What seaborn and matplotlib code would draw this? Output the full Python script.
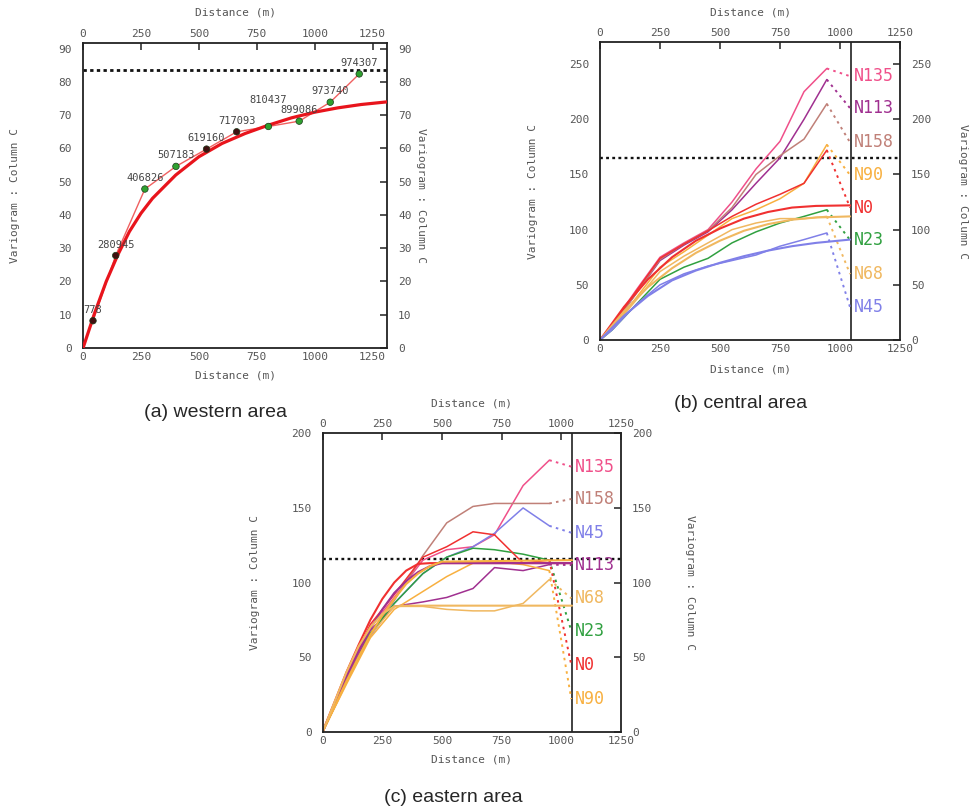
import matplotlib
matplotlib.use('Agg')
import numpy as np
import matplotlib.pyplot as plt
import seaborn as sns

sns.set_style('white')
plt.rcParams['font.family'] = ['DejaVu Sans Mono']

MONO = 'DejaVu Sans Mono'
GREY = '#555555'
PX = 0.72  # pixels -> points at dpi 100

# ---------------- (a) western area : omnidirectional ----------------
a_lag = [43, 141, 267, 401, 533, 663, 800, 933, 1067, 1192]
a_gamma = [8.2, 27.8, 47.8, 54.6, 59.8, 65.0, 66.6, 68.2, 73.9, 82.4]
a_pairs = ['778', '280945', '406826', '507183', '619160', '717093',
           '810437', '899086', '973740', '974307']
a_model_lag = [0, 50, 100, 150, 200, 250, 300, 400, 500, 600, 700, 800,
               900, 1000, 1100, 1200, 1312]
a_model = [0, 10.5, 20, 28, 35, 40.5, 45, 52, 57.5, 61.5, 64.5, 67, 69.2,
           70.9, 72.2, 73.2, 74]
a_sill = 83.5

# ---------------- (b) central area : directional ----------------
dirs = ['N135', 'N113', 'N158', 'N90', 'N0', 'N23', 'N68', 'N45']
colors = {'N135': '#f0508a', 'N113': '#a03090', 'N158': '#c08078',
          'N90': '#f8b040', 'N0': '#f03030', 'N23': '#30a040',
          'N68': '#f0b860', 'N45': '#8080e8'}

b_lag = [0, 50, 150, 250, 350, 450, 550, 650, 750, 850, 945]
b_n135 = [0, 14, 45, 75, 88, 100, 125, 155, 180, 225, 246]
b_n113 = [0, 12, 42, 72, 86, 98, 118, 142, 165, 200, 236]
b_n158 = [0, 12, 42, 73, 87, 99, 120, 150, 167, 182, 214]
b_n90 = [0, 10, 38, 66, 80, 95, 110, 118, 128, 142, 177]
b_n0 = [0, 13, 44, 74, 87, 99, 112, 123, 132, 142, 172]
b_n23 = [0, 9, 32, 55, 66, 74, 88, 98, 106, 112, 118]
b_n68 = [0, 10, 36, 62, 76, 88, 100, 106, 110, 110, 112]
b_n45 = [0, 9, 32, 50, 60, 67, 72, 77, 85, 91, 97]
b_exp = {'N135': b_n135, 'N113': b_n113, 'N158': b_n158, 'N90': b_n90,
         'N0': b_n0, 'N23': b_n23, 'N68': b_n68, 'N45': b_n45}
b_label_y = [239, 210, 179, 149.5, 120, 90.6, 59.8, 29.6]

b_model_lag = [0, 100, 200, 300, 400, 500, 600, 700, 800, 900, 1042]
b_model_n0 = [0, 30, 55, 75, 90, 101, 110, 116, 120, 121.5, 122]
b_model_n68 = [0, 26, 48, 65, 79, 90, 99, 105, 109, 111, 112]
b_model_n45 = [0, 22, 40, 54, 63, 70, 76, 81, 85, 88, 91]
b_sill = 165

# ---------------- (c) eastern area : directional ----------------
c_dirs = ['N135', 'N158', 'N45', 'N113', 'N68', 'N23', 'N0', 'N90']
c_lag = [0, 100, 200, 300, 420, 520, 630, 720, 840, 950]
c_n135 = [0, 36, 70, 90, 115, 122, 124, 132, 165, 182]
c_n158 = [0, 34, 66, 88, 118, 140, 151, 153, 153, 153]
c_n45 = [0, 33, 64, 86, 106, 117, 124, 133, 150, 138]
c_n113 = [0, 35, 68, 84, 87, 90, 96, 110, 108, 112]
c_n68 = [0, 33, 65, 84, 84, 82, 81, 81, 86, 102]
c_n23 = [0, 34, 66, 86, 106, 117, 123, 122, 119, 115]
c_n0 = [0, 38, 72, 92, 117, 124, 134, 132, 113, 115]
c_n90 = [0, 32, 63, 82, 94, 104, 113, 114, 112, 108]
c_exp = {'N135': c_n135, 'N158': c_n158, 'N45': c_n45, 'N113': c_n113,
         'N68': c_n68, 'N23': c_n23, 'N0': c_n0, 'N90': c_n90}
c_label_y = [177.7, 156, 133.4, 111.7, 89.4, 67.7, 44.7, 21.9]

c_model_lag = [0, 50, 100, 150, 200, 250, 300, 350, 400, 450, 500, 1045]
c_model_n0 = [0, 20, 40, 58, 75, 89, 100, 108, 112.5, 113, 113, 113]
c_model_n113 = [0, 19, 37, 54, 69, 82, 93, 101, 107, 111, 113, 113]
c_model_n90 = [0, 17, 34, 50, 65, 78, 89, 99, 106, 111, 114, 115]
c_model_n68 = [0, 20, 40, 57, 70, 79, 84, 84.5, 84.5, 84.5, 84.5, 84.5]
c_sill = 116


def frame(ax, xmax, ymax, yticks, top_px, bot_px, left_px, right_px):
    ax.set_xlim(0, xmax)
    ax.set_ylim(0, ymax)
    ax.set_xticks([0, 250, 500, 750, 1000, 1250])
    ax.set_yticks(yticks)
    ax.tick_params(axis='both', direction='in', length=5, width=1.1,
                   top=True, right=True, labeltop=True, labelright=True,
                   labelsize=8, labelcolor=GREY, color='#222')
    ax.tick_params(axis='x', pad=3)
    ax.tick_params(axis='y', pad=8)
    for s in ax.spines.values():
        s.set_linewidth(1.3)
        s.set_color('#222')
    kw = dict(xycoords='axes fraction', textcoords='offset points',
              ha='center', va='center', fontsize=8, color=GREY, fontfamily=MONO)
    ax.annotate('Distance (m)', xy=(0.5, 1), xytext=(0, top_px * PX), **kw)
    ax.annotate('Distance (m)', xy=(0.5, 0), xytext=(0, -bot_px * PX), **kw)
    ax.annotate('Variogram : Column C', xy=(0, 0.5), xytext=(-left_px * PX, 0),
                rotation=90, **kw)
    ax.annotate('Variogram : Column C', xy=(1, 0.5), xytext=(right_px * PX, 0),
                rotation=270, **kw)


fig = plt.figure(figsize=(9.69, 8.08), dpi=100)
ax_a = fig.add_axes([0.0857, 0.5693, 0.3137, 0.3775])
ax_b = fig.add_axes([0.6192, 0.5792, 0.3096, 0.3688])
ax_c = fig.add_axes([0.3330, 0.0944, 0.3078, 0.3693])

# ---- panel a
frame(ax_a, 1312, 91.7, range(0, 91, 10), 30, 27, 68, 34)
ax_a.axhline(a_sill, color='#111', ls=(0, (1.2, 1.2)), lw=2)
sns.lineplot(x=a_lag, y=a_gamma, ax=ax_a, color='#f06060', lw=1.0,
             sort=False, estimator=None, legend=False)
sns.lineplot(x=a_model_lag, y=a_model, ax=ax_a, color='#e8141c', lw=2.3,
             sort=False, estimator=None, legend=False, zorder=3)
dot_col = ['#401010', '#401010', '#2fa02f', '#2fa02f', '#401010', '#401010',
           '#2fa02f', '#2fa02f', '#2fa02f', '#2fa02f']
sns.scatterplot(x=a_lag, y=a_gamma, ax=ax_a, c=dot_col, s=22,
                edgecolor='#1a3a1a', linewidth=0.5, zorder=4, legend=False)
# pair counts, one lifted so neighbours don't collide
stagger = [0, 0, 0, 0, 0, 0, 4.8, 0, 0, 0]
for x, y, t, dy in zip(a_lag, a_gamma, a_pairs, stagger):
    ax_a.text(x, y + 3.3 + dy, t, ha='center', va='center', fontsize=7.5,
              color='#444', fontfamily=MONO, zorder=5)


def directional(ax, lag, exp, order, label_y, sill, vx):
    ax.axhline(sill, color='#111', ls=(0, (1.2, 1.4)), lw=1.7, zorder=1)
    ax.axvline(vx, color='#333', lw=1.3)
    for name, ly in zip(order, label_y):
        vals = exp[name]
        c = colors[name]
        sns.lineplot(x=lag, y=vals, ax=ax, color=c, lw=1.1, sort=False,
                     estimator=None, legend=False)
        ax.plot([lag[-1], vx - 3], [vals[-1], ly], color=c, lw=1.4,
                ls=(0, (1.3, 2.2)))
        ax.text(vx + 12, ly, name, color=c, fontsize=12, fontfamily=MONO,
                ha='left', va='center')


# ---- panel b
frame(ax_b, 1250, 270, range(0, 251, 50), 30, 29, 67, 63)
directional(ax_b, b_lag, b_exp, dirs, b_label_y, b_sill, 1045)
for vals, name in [(b_model_n0, 'N0'), (b_model_n68, 'N68'), (b_model_n45, 'N45')]:
    sns.lineplot(x=b_model_lag, y=vals, ax=ax_b, color=colors[name], lw=1.5,
                 sort=False, estimator=None, legend=False)

# ---- panel c
frame(ax_c, 1250, 200, range(0, 201, 50), 30, 28, 68, 69)
directional(ax_c, c_lag, c_exp, c_dirs, c_label_y, c_sill, 1045)
for vals, name in [(c_model_n0, 'N0'), (c_model_n113, 'N113'),
                   (c_model_n90, 'N90'), (c_model_n68, 'N68')]:
    sns.lineplot(x=c_model_lag, y=vals, ax=ax_c, color=colors[name], lw=1.5,
                 sort=False, estimator=None, legend=False)

cap = dict(ha='center', va='center', fontsize=14, fontfamily='Liberation Sans')
fig.text(0.222, 0.4889, '(a) western area', **cap)
fig.text(0.764, 0.5012, '(b) central area', **cap)
fig.text(0.4675, 0.0136, '(c) eastern area', **cap)

fig.savefig('out.png', dpi=100)
